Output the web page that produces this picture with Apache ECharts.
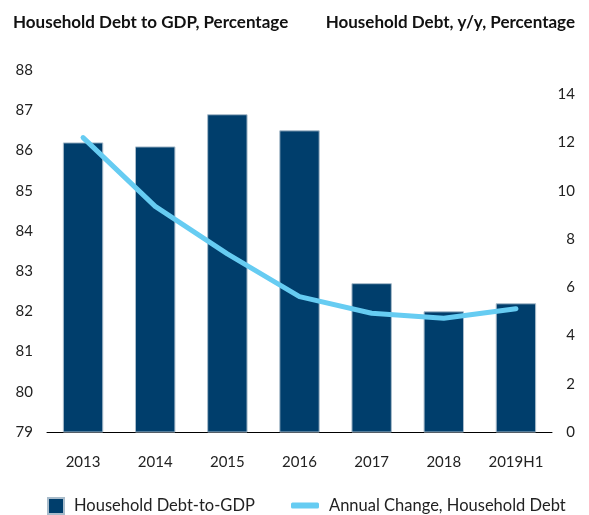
<!DOCTYPE html>
<html>
<head>
<meta charset="utf-8">
<script src="https://cdn.jsdelivr.net/npm/echarts@6/dist/echarts.min.js"></script>
<style>html,body{margin:0;padding:0;background:#fff}#c{width:589px;height:515px}</style>
</head>
<body>
<div id="c"></div>
<script>
var categories = ['2013','2014','2015','2016','2017','2018','2019H1'];
var debtToGdp = [86.2, 86.1, 86.9, 86.5, 82.7, 82.0, 82.2];
var annualChange = [12.2, 9.35, 7.38, 5.61, 4.92, 4.71, 5.11];
var leftTitle = 'Household Debt to GDP, Percentage';
var rightTitle = 'Household Debt, y/y, Percentage';
var barName = 'Household Debt-to-GDP';
var lineName = 'Annual Change, Household Debt';

var FONT = 'Lato';
var chart = echarts.init(document.getElementById('c'), null, {renderer:'canvas'});
chart.setOption({
  animation: false,
  backgroundColor: '#fff',
  textStyle: {fontFamily: FONT},
  title: [
    {text: leftTitle, left: 8, top: 9, textStyle: {fontFamily: FONT, fontWeight: 'bold', fontSize: 17, color: '#111'}},
    {text: rightTitle, right: 9, top: 9, textStyle: {fontFamily: FONT, fontWeight: 'bold', fontSize: 17, color: '#111'}}
  ],
  legend: [
    {data: [barName], left: 42, top: 492, icon: 'rect', itemWidth: 16, itemHeight: 16,
     textStyle: {fontFamily: FONT, fontSize: 16.5, color: '#222', padding: [0,0,0,5]}},
    {data: [lineName], left: 286, top: 492, icon: 'roundRect', itemWidth: 28, itemHeight: 6,
     textStyle: {fontFamily: FONT, fontSize: 16.5, color: '#222', padding: [0,0,0,5]}}
  ],
  grid: {left: 47, right: 37, top: 70, bottom: 83, containLabel: false, outerBoundsMode: 'none'},
  xAxis: {
    type: 'category', data: categories,
    axisLine: {lineStyle: {color: '#000', width: 1}},
    axisTick: {show: false},
    axisLabel: {fontFamily: FONT, fontSize: 15, color: '#222', margin: 23, interval: 0}
  },
  yAxis: [
    {type: 'value', min: 79, max: 88, interval: 1,
     axisLine: {show: false}, axisTick: {show: false}, splitLine: {show: false},
     axisLabel: {fontFamily: FONT, fontSize: 15, color: '#222', margin: 14}},
    {type: 'value', min: 0, max: 15, interval: 2, position: 'right',
     axisLine: {show: false}, axisTick: {show: false}, splitLine: {show: false},
     axisLabel: {fontFamily: FONT, fontSize: 15, color: '#222', margin: 23, align: 'right', showMaxLabel: false,
       formatter: function(v){ return v % 2 === 0 ? String(v) : ''; }}}
  ],
  series: [
    {name: barName, type: 'bar', data: debtToGdp, yAxisIndex: 0, barWidth: '56%',
     itemStyle: {color: '#003e6c', borderColor: '#a9bccb', borderWidth: 1}},
    {name: lineName, type: 'line', data: annualChange, yAxisIndex: 1, symbol: 'none',
     lineStyle: {color: '#66ccf2', width: 5, cap: 'round', join: 'round'},
     itemStyle: {color: '#66ccf2'}}
  ]
});
</script>
</body>
</html>
